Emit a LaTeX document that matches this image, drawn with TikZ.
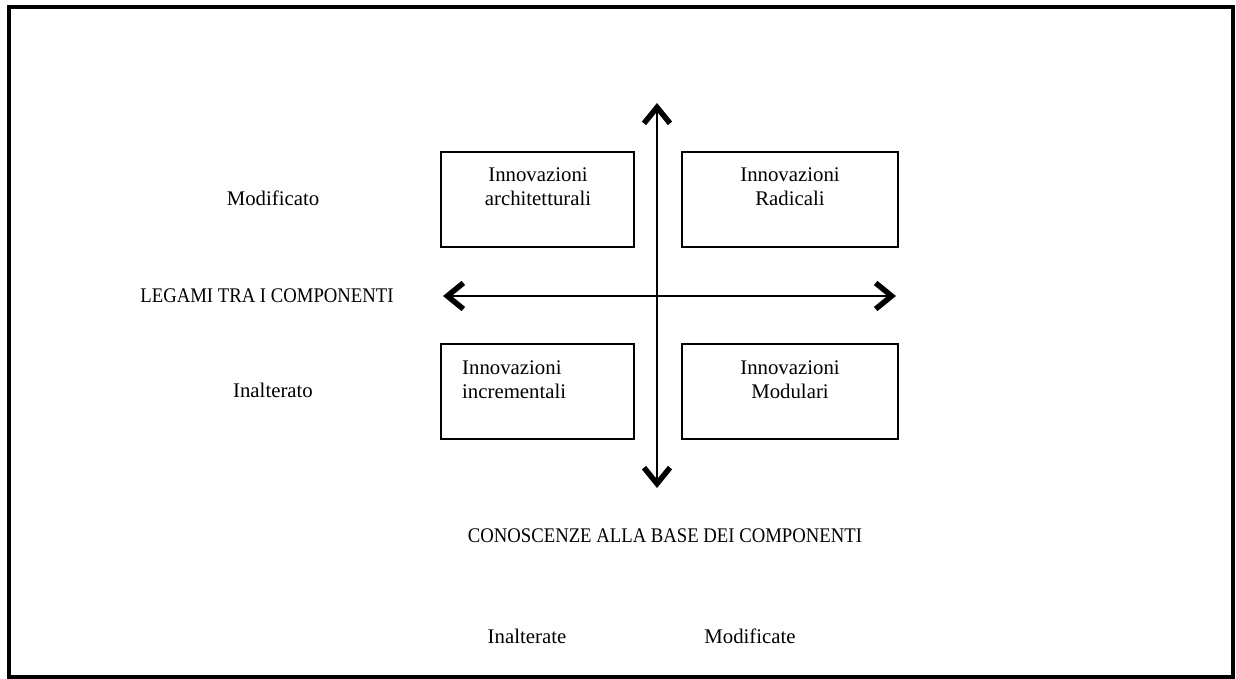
\documentclass[tikz,border=0pt]{standalone}
\usepackage{fontspec}
\setmainfont{Liberation Serif}
\usetikzlibrary{arrows.meta}
\begin{document}
\begin{tikzpicture}[x=1pt,y=-1pt,
  box/.style={draw,line width=1.6pt,minimum height=95pt,inner sep=0pt},
  txt/.style={font=\fontsize{20.8}{24}\selectfont,inner sep=0pt,align=center},
  caps/.style={txt,font=\fontsize{20.8}{24}\selectfont\addfontfeature{FakeStretch=0.9}},
  axis/.style={line width=2.6pt,{Straight Barb[length=16pt,width=26pt,line width=5.5pt]}-{Straight Barb[length=16pt,width=26pt,line width=5.5pt]}}]
\useasboundingbox (0,0) rectangle (1236,679);
% outer frame
\draw[line width=4pt] (9,7) rectangle (1233,677);

% quadrant boxes
\node[box,minimum width=193pt] (ul) at (537.5,199.5) {};
\node[box,minimum width=216pt] (ur) at (790,199.5) {};
\node[box,minimum width=193pt] (ll) at (537.5,391.5) {};
\node[box,minimum width=216pt] (lr) at (790,391.5) {};

\node[txt] (tul) at (538,187) {Innovazioni\\architetturali};
\node[txt] (tur) at (790,187) {Innovazioni\\Radicali};
\node[txt,align=left,anchor=west] (tll) at (462,380) {Innovazioni\\incrementali};
\node[txt] (tlr) at (790,380) {Innovazioni\\Modulari};

% axes
\coordinate (vtop) at (657,103);
\coordinate (vbot) at (657,488);
\coordinate (hleft) at (443,296);
\coordinate (hright) at (896,296);
\draw[axis] (vbot) -- (vtop);
\draw[axis] (hleft) -- (hright);

% axis labels
\node[txt] (mod) at (273,198) {Modificato};
\node[caps] (leg) at (267,296) {LEGAMI TRA I COMPONENTI};
\node[txt] (inal) at (273,390) {Inalterato};
\node[caps] (con) at (665,536) {CONOSCENZE ALLA BASE DEI COMPONENTI};
\node[txt] (inat) at (527,636) {Inalterate};
\node[txt] (modf) at (750,636) {Modificate};
\end{tikzpicture}
\end{document}
